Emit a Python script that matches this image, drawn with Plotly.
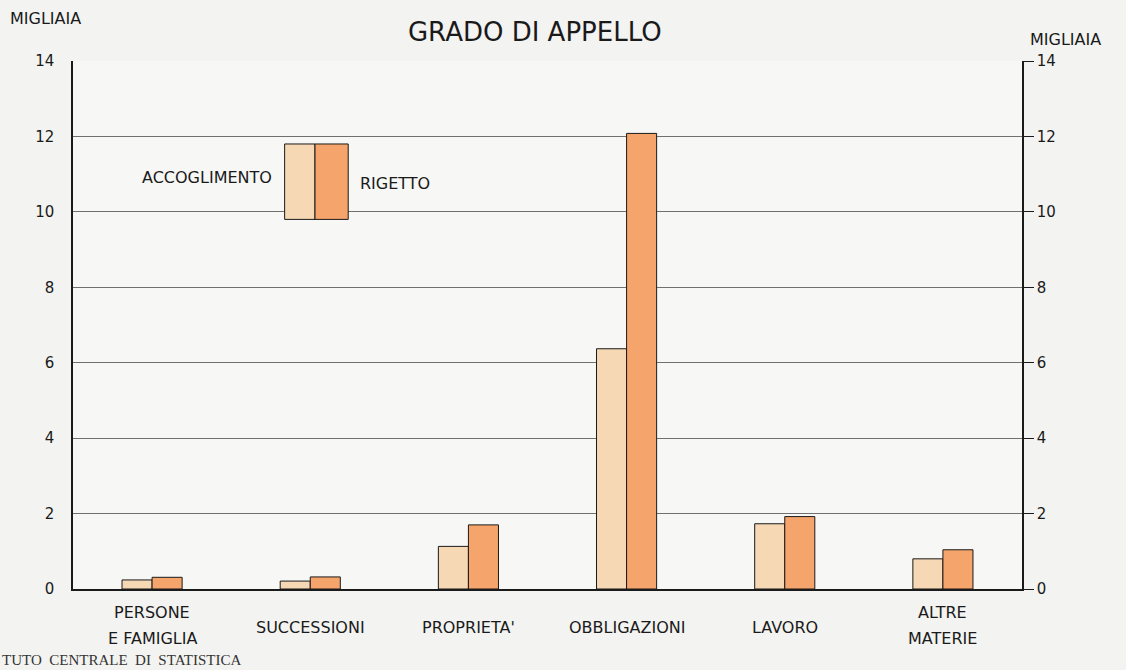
import plotly.graph_objects as go

categories = ["PERSONE E FAMIGLIA", "SUCCESSIONI", "PROPRIETA'", "OBBLIGAZIONI", "LAVORO", "ALTRE MATERIE"]
label_lines = [["PERSONE", "E FAMIGLIA"], ["SUCCESSIONI"], ["PROPRIETA'"], ["OBBLIGAZIONI"], ["LAVORO"], ["ALTRE", "MATERIE"]]
accoglimento = [0.24, 0.21, 1.13, 6.37, 1.73, 0.80]
rigetto = [0.31, 0.32, 1.70, 12.08, 1.92, 1.04]
y_ticks = [0, 2, 4, 6, 8, 10, 12, 14]

LIGHT = "#F6D8B4"
DARK = "#F5A46B"
FONT = "DejaVu Sans"
INK = "#1a1a1a"

fig = go.Figure()
fig.add_trace(go.Bar(x=categories, y=accoglimento, name="ACCOGLIMENTO",
                     marker=dict(color=LIGHT, line=dict(color=INK, width=1))))
fig.add_trace(go.Bar(x=categories, y=rigetto, name="RIGETTO",
                     marker=dict(color=DARK, line=dict(color=INK, width=1))))
# invisible trace to activate the right-hand axis
fig.add_trace(go.Scatter(x=categories, y=rigetto, yaxis="y2", mode="markers",
                         marker=dict(opacity=0), hoverinfo="skip", showlegend=False))

axis_font = dict(family=FONT, size=15, color=INK)
fig.update_layout(
    width=1126, height=670,
    margin=dict(l=73, r=104, t=61, b=81),
    paper_bgcolor="#F3F3F1", plot_bgcolor="#F7F7F5",
    barmode="group", bargap=0.62, bargroupgap=0,
    showlegend=False,
    title=dict(text="GRADO DI APPELLO", x=0.475, xanchor="center", y=0.952, yanchor="middle",
               font=dict(family=FONT, size=26, color=INK)),
    xaxis=dict(showticklabels=False, showline=True, linecolor=INK, linewidth=1.5,
               showgrid=False, ticks="", zeroline=False),
    yaxis=dict(range=[0, 14], tickvals=y_ticks, showgrid=True, gridcolor="#707070", gridwidth=1,
               showline=True, linecolor=INK, linewidth=1.5, zeroline=False,
               ticks="outside", ticklen=14, tickcolor="rgba(0,0,0,0)", tickfont=axis_font),
    yaxis2=dict(range=[0, 14], tickvals=y_ticks, overlaying="y", side="right", showgrid=False,
                showline=True, linecolor=INK, linewidth=1.5, zeroline=False,
                ticks="outside", ticklen=10, tickcolor=INK, tickfont=axis_font),
)

lab_font = dict(family=FONT, size=16, color=INK)
annotations = [
    dict(text="MIGLIAIA", xref="paper", yref="paper", x=0, y=1, xshift=-65, yshift=43,
         xanchor="left", yanchor="middle", showarrow=False, font=lab_font),
    dict(text="MIGLIAIA", xref="paper", yref="paper", x=1, y=1, xshift=6, yshift=22,
         xanchor="left", yanchor="middle", showarrow=False, font=lab_font),
    dict(text="ACCOGLIMENTO", xref="paper", yref="y", x=0.212, y=10.9, xanchor="right", yanchor="middle",
         showarrow=False, font=lab_font),
    dict(text="RIGETTO", xref="paper", yref="y", x=0.300, y=10.75, xanchor="left", yanchor="middle",
         showarrow=False, font=lab_font),
    dict(text="TUTO  CENTRALE  DI  STATISTICA", xref="paper", yref="paper", x=0, y=0, xshift=-73, yshift=-81,
         xanchor="left", yanchor="bottom", showarrow=False,
         font=dict(family="Liberation Serif", size=15, color="#333333")),
]
for cat, lines in zip(categories, label_lines):
    if len(lines) == 1:
        shifts = [-38]
    else:
        shifts = [-23, -49]
    for line, s in zip(lines, shifts):
        annotations.append(dict(text=line, xref="x", yref="paper", x=cat, y=0, yshift=s,
                                xanchor="center", yanchor="middle", showarrow=False,
                                font=dict(family=FONT, size=16, color=INK)))
fig.update_layout(annotations=annotations)

# legend key boxes
fig.add_shape(type="rect", xref="paper", yref="y", x0=0.223, x1=0.255, y0=9.8, y1=11.8,
              fillcolor=LIGHT, line=dict(color=INK, width=1))
fig.add_shape(type="rect", xref="paper", yref="y", x0=0.255, x1=0.290, y0=9.8, y1=11.8,
              fillcolor=DARK, line=dict(color=INK, width=1))

fig.write_html("out.html", config={"displayModeBar": False},
               post_script="document.body.style.margin='0';document.body.style.overflow='hidden';")
